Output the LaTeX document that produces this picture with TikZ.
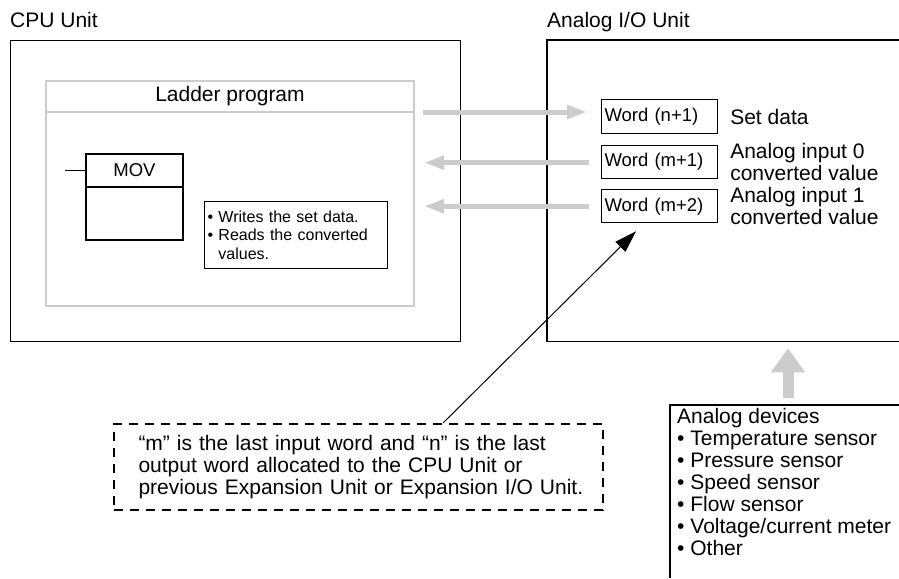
\documentclass[tikz,border=0pt]{standalone}
\usepackage{fontspec}
\setmainfont{Liberation Sans}
\usepackage{tikz}
\usetikzlibrary{arrows.meta, positioning, calc}

\begin{document}
\begin{tikzpicture}[
    x=1pt, y=-1pt,
    % Styles for boxes, labels and arrows
    unitbox/.style = {rectangle, draw, line width=1.1pt, anchor=north west, inner sep=0pt},
    ladbox/.style = {rectangle, draw=gray!40, line width=2.2pt, outer sep=0pt, minimum width=368pt, font=\fontsize{21}{22}\selectfont},
    movbox/.style = {rectangle, draw, line width=1.1pt, outer sep=0pt, minimum width=97pt, font=\fontsize{18.5}{20}\selectfont},
    wordbox/.style = {rectangle, draw, line width=1.1pt, minimum height=33pt, text width=110pt, inner xsep=3pt, align=left, font=\fontsize{18.5}{20}\selectfont},
    lbl/.style = {inner sep=0pt, align=left, font=\fontsize{21}{22}\selectfont},
    garrow/.style = {gray!40, line width=5pt, -{Triangle[length=20pt,width=13pt]}},
    bigarrow/.style = {gray!40, line width=11pt, -{Triangle[length=24pt,width=33pt]}},
    parrow/.style = {line width=1pt, -{Triangle[length=22pt,width=14pt]}}
]
    \useasboundingbox[fill=white] (0,0) rectangle (899,578);

    % 1. CPU Unit with the ladder program
    \node (cpu) [unitbox, minimum width=450pt, minimum height=301pt] at (10,40) {};
    \node [lbl, anchor=base west] at ([yshift=12pt]cpu.north west) {CPU Unit};

    \node (ladhead) [ladbox, minimum height=31pt, anchor=north west] at (46,81) {Ladder program};
    \node (ladbody) [ladbox, minimum height=194pt, below=0pt of ladhead] {};

    \node (movhead) [movbox, minimum height=33pt, anchor=north west] at (86,154) {MOV};
    \node (movbody) [movbox, minimum height=53pt, below=0pt of movhead] {};
    \draw [line width=1.1pt] ([xshift=-21pt]movhead.west) -- (movhead.west);

    \node (memo) [rectangle, draw, line width=1.1pt, anchor=north west, minimum width=183pt, minimum height=67pt,
                  text width=177pt, inner xsep=3pt, align=left, font=\fontsize{16}{18.5}\selectfont] at (204,201)
        {\textbullet\ Writes the set data.\\ \textbullet\ Reads the converted\\ \hphantom{\textbullet\ }values.};

    % 2. Analog I/O Unit, open on the right
    \node (aiou) [rectangle, anchor=north west, minimum width=352pt, minimum height=301pt, inner sep=0pt] at (547,40) {};
    \draw [line width=1.1pt] (aiou.north east) -- (aiou.north west) -- (aiou.south west) -- (aiou.south east);
    \node [lbl, anchor=base west] at ([yshift=12pt]aiou.north west) {Analog I/O Unit};

    \node (wn1) [wordbox, minimum height=34pt, anchor=north west] at (601,99) {Word (n+1)};
    \node (wm1) [wordbox, below=10.5pt of wn1] {Word (m+1)};
    \node (wm2) [wordbox, below=10.5pt of wm1] {Word (m+2)};

    \node [lbl, right=12pt of wn1] {Set data};
    \node [lbl, right=12pt of wm1] {Analog input 0\\converted value};
    \node [lbl, right=12pt of wm2] {Analog input 1\\converted value};

    % 3. Data exchange between the ladder program and the words
    \draw [garrow] ($(ladhead.south east)+(9,0)$) -- ($(wn1.west |- ladhead.south east)+(-14,0)$);
    \draw [garrow] ($(wm1.west)+(-12,1)$) -- ($(ladbody.east |- wm1.west)+(10,1)$);
    \draw [garrow] ($(wm2.west)+(-12,0)$) -- ($(ladbody.east |- wm2.west)+(10,0)$);

    % 4. Note on m and n, pointing at the words
    \node (remark) [rectangle, draw, dash pattern=on 9pt off 7pt, line width=2pt, minimum width=488pt, minimum height=86pt,
                    text width=439pt, inner xsep=25pt, align=left, font=\fontsize{21}{22}\selectfont] at (358,467)
        {\mbox{“m” is the last input word and “n” is the last}\\
         \mbox{output word allocated to the CPU Unit or}\\
         \mbox{previous Expansion Unit or Expansion I/O Unit.}};
    \draw [parrow] ($(remark.north)+(85,0)$) -- ($(wm2.south west)+(35,8)$);

    % 5. Analog devices feeding the unit
    \coordinate (devcorner) at (670,405);
    \draw [line width=1.1pt] ([xshift=229pt]devcorner) -- (devcorner) -- ([yshift=-173pt]devcorner);
    \node (devices) [lbl, anchor=north west] at (677,408)
        {Analog devices\\\textbullet\ Temperature sensor\\\textbullet\ Pressure sensor\\\textbullet\ Speed sensor\\\textbullet\ Flow sensor\\\textbullet\ Voltage/current meter\\\textbullet\ Other};
    \draw [bigarrow] ($(devcorner)+(118,-7)$) -- ($(devcorner |- aiou.south)+(118,7)$);

\end{tikzpicture}
\end{document}
